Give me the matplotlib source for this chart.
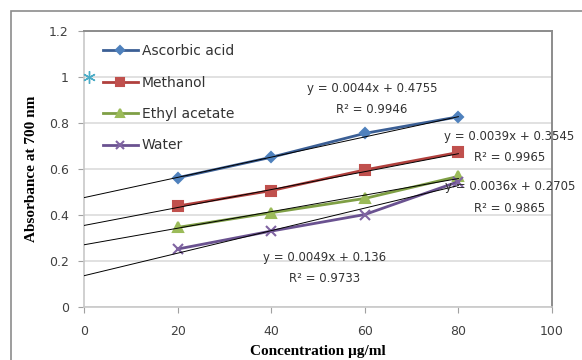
import matplotlib
matplotlib.use("Agg")
import matplotlib.pyplot as plt
from matplotlib.patches import Rectangle
import numpy as np

# concentrations (ug/ml) and measured absorbance at 700 nm
conc = [20, 40, 60, 80]
ascorbic = [0.562, 0.651, 0.755, 0.827]
methanol = [0.439, 0.506, 0.596, 0.672]
ethyl = [0.346, 0.410, 0.472, 0.568]
water = [0.252, 0.330, 0.402, 0.545]

names = ["Ascorbic acid", "Methanol", "Ethyl acetate", "Water"]

# linear trendlines: slope, intercept, R^2
slopes = [0.0044, 0.0039, 0.0036, 0.0049]
intercepts = [0.4755, 0.3545, 0.2705, 0.136]
r2 = [0.9946, 0.9965, 0.9865, 0.9733]

# stray point at the top of the y axis
blank_x = [1]
blank_y = [1.0]

colors = ["#4F81BD", "#C0504D", "#9BBB59", "#8064A2"]
line_colors = ["#3b5f95", "#b0403d", "#7f9f45", "#6a5290"]
markers = ["D", "s", "^", "x"]
msizes = [5, 7, 7, 7]

fig = plt.figure(figsize=(5.82, 3.6), dpi=100)
ax = fig.add_axes([84 / 582, 1 - 307 / 360, (552 - 84) / 582, (307 - 31) / 360])

# chart border
fig.patches.append(Rectangle((11 / 582, -0.1), 1.2, 1 - 11 / 360 + 0.1,
                             transform=fig.transFigure, fill=False,
                             edgecolor="#8c8c8c", lw=1.2))

ax.set_xlim(0, 100)
ax.set_ylim(0, 1.2)
ax.set_xticks(range(0, 101, 20))
ax.set_yticks([0, 0.2, 0.4, 0.6, 0.8, 1.0, 1.2])
ax.set_yticklabels(["0", "0.2", "0.4", "0.6", "0.8", "1", "1.2"])
ax.yaxis.grid(True, color="#dcdcdc", lw=1.2)
ax.set_axisbelow(True)
ax.tick_params(axis="both", length=4, color="#a0a0a0", labelsize=9,
               labelcolor="#404040")
ax.tick_params(axis="x", pad=9)
ax.tick_params(axis="y", pad=7)

for side in ["left", "bottom"]:
    ax.spines[side].set_color("#c8c8c8")
    ax.spines[side].set_linewidth(1.2)
for side in ["top", "right"]:
    ax.spines[side].set_color("#8c8c8c")
    ax.spines[side].set_linewidth(1.4)

series = [ascorbic, methanol, ethyl, water]
for i in range(4):
    ax.plot(conc, series[i], color=line_colors[i], lw=2, marker=markers[i],
            ms=msizes[i], mfc=colors[i], mec=colors[i], mew=1.5,
            label=names[i], zorder=3)

ax.plot(blank_x, blank_y, linestyle="none", marker=(6, 2, 0), ms=9,
        color="#4bacc6", mew=1, clip_on=False, zorder=3)

# trendlines from x = 0 to the last point
xt = np.array([0, 80])
for i in range(4):
    ax.plot(xt, slopes[i] * xt + intercepts[i], color="black", lw=0.7, zorder=4)

# equation labels
eq_pos = [(61.5, 0.948, 0.857), (90.9, 0.743, 0.652),
          (91.0, 0.522, 0.430), (51.3, 0.217, 0.126)]
for i in range(4):
    x, y1, y2 = eq_pos[i]
    ax.text(x, y1, "y = %gx + %g" % (slopes[i], intercepts[i]), ha="center",
            va="center", fontsize=8.5, color="#333333", clip_on=False, zorder=5)
    ax.text(x, y2, "R² = %g" % r2[i], ha="center", va="center",
            fontsize=8.5, color="#333333", clip_on=False, zorder=5)

leg = ax.legend(loc="upper left", bbox_to_anchor=(0.02, 0.987), frameon=False,
                fontsize=10, handlelength=2.5, handletextpad=0.3,
                labelspacing=1.25, borderaxespad=0.3, markerscale=0.8)
for t in leg.get_texts():
    t.set_color("#333333")

ax.set_xlabel("Concentration µg/ml", fontsize=11, fontweight="bold",
              family="Liberation Serif", labelpad=5)
ax.set_ylabel("Absorbance at 700 nm", fontsize=11, fontweight="bold",
              family="Liberation Serif", labelpad=8)

fig.savefig("out.png", dpi=100)
